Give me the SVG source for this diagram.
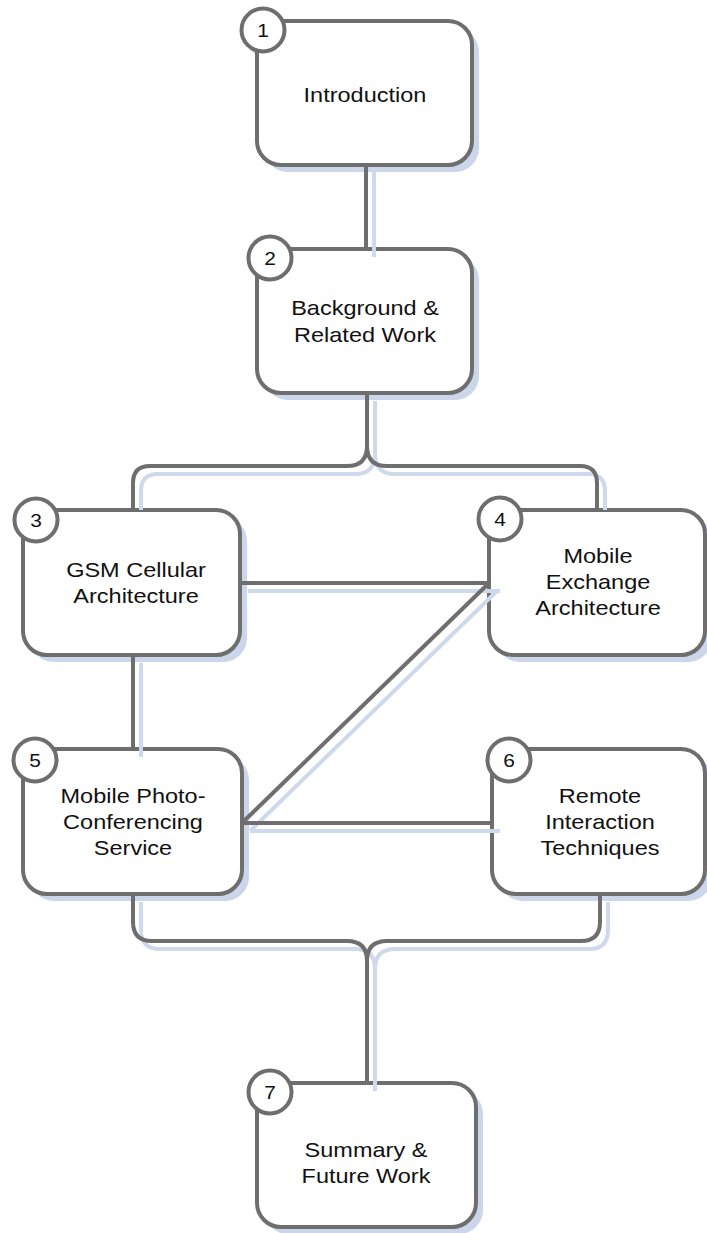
<svg xmlns="http://www.w3.org/2000/svg" width="707" height="1233" viewBox="0 0 707 1233">
<style>
.sh{fill:#cbd6ea;stroke:none}
.box{fill:#ffffff;stroke:#6e6e6e;stroke-width:4}
.num{fill:#ffffff;stroke:#6e6e6e;stroke-width:4}
.t{font-family:"Liberation Sans",Arial,sans-serif;font-size:21px;fill:#111111;text-anchor:middle}
.n{font-family:"Liberation Sans",Arial,sans-serif;font-size:19px;fill:#111111;text-anchor:middle}
.c{fill:none;stroke:#6e6e6e;stroke-width:4}
.cs{fill:none;stroke:#cfd9ec;stroke-width:4}
</style>
<rect width="707" height="1233" fill="#ffffff"/>
<g id="node1">
<rect class="sh" x="264" y="28" width="215" height="144" rx="24"/>
<circle class="sh" cx="270" cy="37" r="23"/>
<rect class="box" x="257" y="21" width="215" height="144" rx="24"/>
<circle class="num" cx="263" cy="30" r="21.5"/>
<g transform="translate(263 0) scale(1.1 1)"><text class="n" x="0" y="37">1</text></g>
<g transform="translate(365 0) scale(1.12 1)"><text class="t" x="0" y="102">Introduction</text></g>
</g>
<g id="node2">
<rect class="sh" x="264" y="256" width="215" height="144" rx="24"/>
<circle class="sh" cx="277" cy="265" r="23"/>
<rect class="box" x="257" y="249" width="215" height="144" rx="24"/>
<circle class="num" cx="270" cy="258" r="21.5"/>
<g transform="translate(270 0) scale(1.1 1)"><text class="n" x="0" y="265">2</text></g>
<g transform="translate(365 0) scale(1.12 1)"><text class="t" x="0" y="315">Background &amp;</text><text class="t" x="0" y="342">Related Work</text></g>
</g>
<g id="node3">
<rect class="sh" x="30" y="517" width="217" height="145" rx="24"/>
<circle class="sh" cx="43" cy="527" r="23"/>
<rect class="box" x="23" y="510" width="217" height="145" rx="24"/>
<circle class="num" cx="36" cy="520" r="21.5"/>
<g transform="translate(36 0) scale(1.1 1)"><text class="n" x="0" y="527">3</text></g>
<g transform="translate(136 0) scale(1.12 1)"><text class="t" x="0" y="577">GSM Cellular</text><text class="t" x="0" y="603">Architecture</text></g>
</g>
<g id="node4">
<rect class="sh" x="496" y="517" width="216" height="145" rx="24"/>
<circle class="sh" cx="507" cy="526" r="23"/>
<rect class="box" x="489" y="510" width="216" height="145" rx="24"/>
<circle class="num" cx="500" cy="519" r="21.5"/>
<g transform="translate(500 0) scale(1.1 1)"><text class="n" x="0" y="526">4</text></g>
<g transform="translate(598 0) scale(1.12 1)"><text class="t" x="0" y="563">Mobile</text><text class="t" x="0" y="589">Exchange</text><text class="t" x="0" y="615">Architecture</text></g>
</g>
<g id="node5">
<rect class="sh" x="30" y="756" width="219" height="145" rx="24"/>
<circle class="sh" cx="42" cy="767" r="23"/>
<rect class="box" x="23" y="749" width="219" height="145" rx="24"/>
<circle class="num" cx="35" cy="760" r="21.5"/>
<g transform="translate(35 0) scale(1.1 1)"><text class="n" x="0" y="767">5</text></g>
<g transform="translate(133 0) scale(1.12 1)"><text class="t" x="0" y="803">Mobile Photo-</text><text class="t" x="0" y="829">Conferencing</text><text class="t" x="0" y="855">Service</text></g>
</g>
<g id="node6">
<rect class="sh" x="499" y="756" width="213" height="145" rx="24"/>
<circle class="sh" cx="516" cy="767" r="23"/>
<rect class="box" x="492" y="749" width="213" height="145" rx="24"/>
<circle class="num" cx="509" cy="760" r="21.5"/>
<g transform="translate(509 0) scale(1.1 1)"><text class="n" x="0" y="767">6</text></g>
<g transform="translate(600 0) scale(1.12 1)"><text class="t" x="0" y="803">Remote</text><text class="t" x="0" y="829">Interaction</text><text class="t" x="0" y="855">Techniques</text></g>
</g>
<g id="node7">
<rect class="sh" x="264" y="1090" width="219" height="144" rx="24"/>
<circle class="sh" cx="277" cy="1099" r="23"/>
<rect class="box" x="257" y="1083" width="219" height="144" rx="24"/>
<circle class="num" cx="270" cy="1092" r="21.5"/>
<g transform="translate(270 0) scale(1.1 1)"><text class="n" x="0" y="1099">7</text></g>
<g transform="translate(366 0) scale(1.12 1)"><text class="t" x="0" y="1157">Summary &amp;</text><text class="t" x="0" y="1183">Future Work</text></g>
</g>
<g id="connectors">
<g id="connector-shadows" transform="translate(8,8)">
<path class="cs" d="M366,160 V249"/>
<path class="cs" d="M367,393 V446 Q367,466 347,466 H150 Q133,466 133,483 V502"/>
<path class="cs" d="M367,446 Q367,466 387,466 H580 Q597,466 597,483 V502"/>
<path class="cs" d="M133,655 V749"/>
<path class="cs" d="M240,583 H492"/>
<path class="cs" d="M489,583 L242,823"/>
<path class="cs" d="M242,823 H492"/>
<path class="cs" d="M133,894 V922 Q133,941 152,941 H347 Q367,941 367,961 V1083"/>
<path class="cs" d="M600,894 V922 Q600,941 581,941 H387 Q367,941 367,961"/>
</g>
<path class="c" d="M366,165 V249"/>
<path class="c" d="M367,393 V446 Q367,466 347,466 H150 Q133,466 133,483 V510"/>
<path class="c" d="M367,446 Q367,466 387,466 H580 Q597,466 597,483 V510"/>
<path class="c" d="M133,655 V749"/>
<path class="c" d="M240,583 H489"/>
<path class="c" d="M489,583 L242,823"/>
<path class="c" d="M242,823 H492"/>
<path class="c" d="M133,894 V922 Q133,941 152,941 H347 Q367,941 367,961 V1083"/>
<path class="c" d="M600,894 V922 Q600,941 581,941 H387 Q367,941 367,961"/>
</g>
</svg>
